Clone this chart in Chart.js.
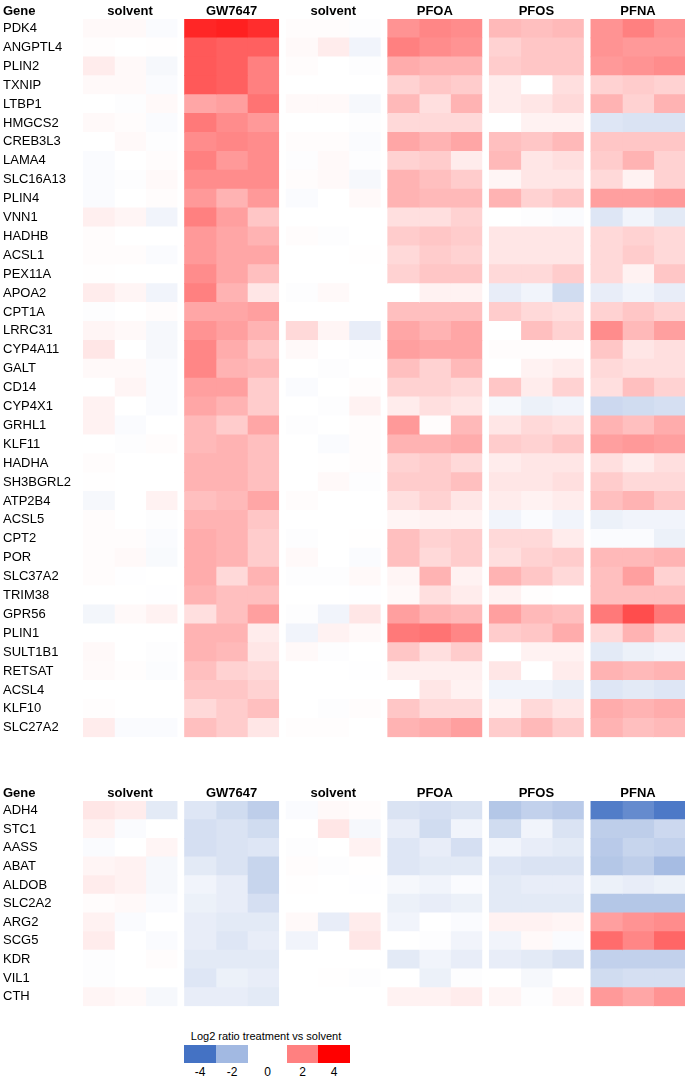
<!DOCTYPE html>
<html>
<head>
<meta charset="utf-8">
<script src="https://cdn.jsdelivr.net/npm/chart.js@4.4.1/dist/chart.umd.min.js"></script>
<style>
  html, body { margin: 0; padding: 0; background: #fff; }
  body { width: 685px; height: 1083px; position: relative; overflow: hidden; font-family: "Liberation Sans", Arial, sans-serif; }
  .wrap { position: absolute; left: 0; }
  #legend { position: absolute; left: 0; top: 1028px; width: 685px; height: 55px; }
  #legend .title { position: absolute; left: 150px; width: 232px; top: 2px; text-align: center; font-size: 11px; color: #000; }
  #legend .box { position: absolute; top: 17px; height: 18px; }
  #legend .lab { position: absolute; top: 37px; width: 30px; text-align: center; font-size: 12px; color: #000; }
</style>
</head>
<body>
<div class="wrap" id="topWrap" style="top:0;"><canvas id="topChart" width="685" height="745"></canvas></div>
<div class="wrap" id="botWrap" style="top:782px;"><canvas id="botChart" width="685" height="232"></canvas></div>
<div id="legend"></div>
<script>
// ---- data ----
const groups = ["solvent", "GW7647", "solvent", "PFOA", "PFOS", "PFNA"];
const replicates = 3;

const topGenes = ["PDK4","ANGPTL4","PLIN2","TXNIP","LTBP1","HMGCS2","CREB3L3","LAMA4","SLC16A13","PLIN4",
  "VNN1","HADHB","ACSL1","PEX11A","APOA2","CPT1A","LRRC31","CYP4A11","GALT","CD14",
  "CYP4X1","GRHL1","KLF11","HADHA","SH3BGRL2","ATP2B4","ACSL5","CPT2","POR","SLC37A2",
  "TRIM38","GPR56","PLIN1","SULT1B1","RETSAT","ACSL4","KLF10","SLC27A2"];

// log2 ratios, per gene: solvent(3), GW7647(3), solvent(3), PFOA(3), PFOS(3), PFNA(3)
const topValues = [
  [0.1,0.1,-0.1, 3.4,3.5,3.3, 0.05,0.05,-0.05, 1.7,1.9,1.8, 1.1,1.0,1.1, 1.7,2.0,1.7],
  [0.03,0,0.02, 2.6,2.5,2.5, 0.1,0.3,-0.3, 2.0,1.8,1.7, 0.7,0.9,0.9, 1.7,1.6,1.6],
  [0.3,0.1,-0.2, 2.6,2.5,2.0, 0.05,0,-0.05, 1.3,1.2,1.2, 0.8,0.9,0.9, 1.6,1.7,1.8],
  [0.1,0.1,-0.1, 2.6,2.5,2.0, 0,0,0, 0.7,0.9,0.8, 0.3,0,0.5, 0.7,0.8,0.7],
  [0,-0.05,0.1, 1.4,1.5,2.2, 0.1,0.1,-0.2, 1.1,0.5,1.2, 0.3,0.4,0.6, 1.2,0.7,1.2],
  [0.1,0.05,-0.1, 2.1,1.8,1.6, 0,0,-0.05, 0.6,0.6,0.6, 0,0.2,0.2, -0.7,-0.8,-0.8],
  [0,0.1,-0.05, 1.8,1.9,1.8, 0.05,0.05,-0.1, 1.4,1.2,1.4, 1.0,0.9,1.1, 0.9,0.9,0.9],
  [-0.1,0,0.05, 2.0,1.6,1.8, -0.05,0.1,-0.05, 0.7,0.8,0.3, 1.1,0.4,0.5, 0.8,1.2,0.7],
  [-0.1,-0.05,0.1, 1.8,1.8,1.8, 0.05,0.1,-0.2, 1.2,1.0,0.8, 0.15,0.4,0.4, 0.6,0.2,0.7],
  [-0.1,0,0.05, 1.6,1.2,1.6, -0.1,0,0.1, 1.2,1.1,1.1, 1.2,0.7,0.9, 1.5,1.5,1.6],
  [0.25,0.15,-0.3, 2.0,1.5,0.9, 0,0,0, 0.5,0.5,0.7, 0,-0.05,-0.1, -0.7,-0.3,-0.6],
  [0.05,0,0, 1.6,1.4,1.2, 0.05,-0.05,0, 0.8,0.9,0.8, 0.4,0.4,0.4, 0.6,0.7,0.6],
  [0.05,0.05,-0.1, 1.6,1.4,1.4, 0,0,0.02, 0.6,0.8,0.7, 0.4,0.4,0.4, 0.6,0.8,0.6],
  [0.02,0,0, 1.8,1.4,1.0, 0,0,0, 0.7,0.9,0.9, 0.6,0.6,0.8, 0.6,0.2,0.9],
  [0.3,0.15,-0.3, 2.0,1.2,0.4, -0.05,0.1,0, 0,0.2,0.2, -0.5,-0.3,-1.0, -0.5,-0.3,-0.5],
  [-0.05,0,0.05, 1.4,1.4,1.5, 0,0,0, 1.0,1.0,1.0, 0.8,0.6,0.5, 0.7,0.9,0.7],
  [0.15,0.1,-0.2, 1.7,1.5,1.2, 0.6,0.15,-0.5, 1.4,1.2,1.4, 0,1.0,0.7, 1.8,1.1,1.5],
  [0.4,0,-0.2, 1.9,1.3,0.9, 0.1,0,-0.05, 1.5,1.4,1.4, 0.05,0.05,0.05, 0.9,0.4,0.5],
  [0.1,0.1,-0.1, 1.9,1.2,1.1, 0,-0.05,0, 1.0,0.7,1.1, 0,0.2,0.3, 0.6,0.5,0.5],
  [0,0.15,-0.1, 1.5,1.5,0.8, -0.1,0,0.05, 0.7,0.7,0.6, 0.9,0.3,0.7, 0.5,1.0,0.7],
  [0.2,0,-0.1, 1.4,1.2,0.8, 0,-0.05,0.2, 0.3,0.5,0.4, -0.2,-0.4,-0.3, -1.1,-1.0,-0.9],
  [0.2,-0.1,0, 1.1,0.8,1.4, -0.05,0,0.05, 1.6,0.05,1.1, 0.4,0.6,0.5, 1.2,1.0,1.3],
  [0,-0.05,0.05, 1.1,1.2,1.0, 0,-0.1,0.05, 1.2,1.2,1.3, 0.8,0.7,0.9, 1.5,1.6,1.5],
  [0.05,0,0, 1.2,1.2,1.0, 0,0.02,0.05, 0.7,0.8,0.6, 0.3,0.4,0.4, 0.5,0.3,0.5],
  [0.02,0,0, 1.2,1.2,1.0, 0,0.1,-0.05, 0.8,0.8,1.0, 0.4,0.4,0.5, 0.8,0.6,0.6],
  [-0.2,0,0.2, 1.0,1.1,1.4, 0.05,0,0, 0.5,0.7,0.4, 0.3,0.2,0.3, 1.0,1.2,0.9],
  [0.05,0,-0.05, 1.2,1.2,0.9, 0,0,0, 0.15,0.2,0.2, -0.3,-0.1,-0.3, -0.4,-0.3,-0.3],
  [0.05,0.05,-0.1, 1.3,1.2,0.8, -0.05,0,0.02, 1.0,0.7,0.8, 0.6,0.6,0.3, -0.1,-0.1,-0.4],
  [0.05,0.1,-0.15, 1.3,1.2,0.8, 0.1,0,-0.1, 1.0,0.6,0.8, 0.5,0.7,0.8, 1.1,1.1,1.2],
  [0.05,-0.02,0, 1.3,0.6,1.2, -0.05,-0.05,0.1, 0.15,1.2,0.2, 1.2,0.9,0.6, 1.0,1.5,0.7],
  [0,0,-0.02, 1.2,1.0,1.0, 0,0,-0.02, 0.1,0.5,0.3, 0.2,0.03,0, 1.0,1.0,1.0],
  [-0.25,0.1,0.2, 0.5,1.0,1.5, -0.05,-0.3,0.4, 1.5,1.2,1.1, 1.5,1.1,1.0, 2.1,2.8,2.1],
  [0,0,0, 1.2,1.2,0.3, -0.3,0.2,0.1, 2.1,2.2,1.9, 0.8,0.9,1.3, 0.6,1.2,0.7],
  [0.1,0,-0.05, 1.2,1.1,0.4, 0.1,-0.05,0, 0.9,0.5,0.8, 0,0.2,0.2, -0.6,-0.4,-0.3],
  [0.08,0.03,-0.08, 1.0,0.7,0.6, 0,0,-0.03, 0.25,0.25,0.25, 0.4,0,0.3, 1.2,1.1,1.2],
  [0,0,0, 0.9,0.9,0.7, 0,0,0, 0,0.4,0.2, -0.3,-0.3,-0.45, -0.7,-0.6,-0.7],
  [0.03,0,0, 0.6,0.8,1.0, 0,-0.05,0.05, 0.9,0.6,0.6, 0.2,0.6,0.4, 1.3,1.2,1.3],
  [0.3,-0.1,-0.1, 1.0,0.8,0.4, 0.03,0.03,0, 1.2,1.3,1.5, 0.8,1.1,0.8, 1.2,1.0,1.1]
];

const bottomGenes = ["ADH4","STC1","AASS","ABAT","ALDOB","SLC2A2","ARG2","SCG5","KDR","VIL1","CTH"];
const bottomValues = [
  [0.4,0.3,-0.6, -0.7,-1.0,-1.4, -0.1,0.1,0.05, -0.8,-0.9,-0.8, -1.6,-1.3,-1.5, -3.7,-3.3,-3.8],
  [0.2,-0.1,0, -0.9,-0.8,-1.0, 0,0.4,-0.2, -0.5,-1.0,-0.3, -1.0,-0.3,-0.8, -1.4,-1.4,-1.1],
  [-0.1,0,0.15, -0.9,-0.8,-0.7, -0.05,0,0.2, -0.7,-0.5,-0.9, -0.3,-0.5,-0.6, -1.5,-1.2,-1.3],
  [0.15,0.2,-0.2, -0.6,-0.8,-1.2, 0.05,-0.05,0.02, -0.7,-0.6,-0.6, -0.7,-0.8,-0.8, -1.6,-1.4,-1.9],
  [0.3,0.2,-0.2, -0.3,-0.5,-1.2, 0.02,0,-0.02, -0.2,-0.3,-0.1, -0.6,-0.5,-0.5, -0.4,-0.5,-0.4],
  [0.05,0.1,-0.1, -0.4,-0.5,-0.9, 0,0,0, -0.4,-0.5,-0.4, -0.6,-0.6,-0.6, -1.6,-1.6,-1.6],
  [0.2,-0.1,0, -0.5,-0.6,-0.6, 0.1,-0.5,0.3, -0.3,0,-0.1, 0.2,0.2,0.15, 1.5,1.7,1.8],
  [0.3,0,-0.1, -0.5,-0.7,-0.5, -0.3,0,0.4, 0,-0.05,-0.3, -0.3,0.1,-0.1, 2.3,1.9,2.4],
  [-0.05,0,0.05, -0.6,-0.6,-0.6, 0,0,0, -0.6,-0.3,-0.5, -0.5,-0.6,-0.8, -1.3,-1.3,-1.3],
  [-0.05,0,0, -0.7,-0.4,-0.5, 0,0.02,-0.05, 0,-0.4,-0.05, 0,-0.2,0, -1.0,-0.9,-0.9],
  [0.15,0.1,-0.2, -0.5,-0.5,-0.6, 0,0,0, 0.2,0.2,0.3, 0.15,-0.05,0.15, 1.6,1.4,1.7]
];

const legendTicks = [-4, -2, 0, 2, 4];
const legendTitle = "Log2 ratio treatment vs solvent";

// ---- colour scale ----
function colorFor(v) {
  if (v >= 0) {
    const t = Math.min(v / 4, 1);
    const g = Math.round(255 * (1 - t));
    return `rgb(255,${g},${g})`;
  }
  const t = Math.min(-v / 4, 1);
  const r = Math.round(255 - t * (255 - 68));
  const g = Math.round(255 - t * (255 - 114));
  const b = Math.round(255 - t * (255 - 196));
  return `rgb(${r},${g},${b})`;
}

const GAP = 0.24; // spacer between groups, in column units
const TOTAL = groups.length * replicates + (groups.length - 1) * GAP;

function buildDatasets(genes, values) {
  const ds = [];
  groups.forEach((g, gi) => {
    if (gi > 0) {
      ds.push({ data: genes.map(() => GAP), backgroundColor: 'rgba(0,0,0,0)', spacer: true });
    }
    for (let r = 0; r < replicates; r++) {
      const col = gi * replicates + r;
      ds.push({
        data: genes.map(() => 1),
        backgroundColor: values.map(row => colorFor(row[col])),
        borderWidth: 0
      });
    }
  });
  return ds;
}

const headerPlugin = {
  id: 'headers',
  afterDraw(chart) {
    const ctx = chart.ctx;
    const xs = chart.scales.x;
    const top = chart.chartArea.top;
    ctx.save();
    ctx.fillStyle = '#000';
    ctx.font = 'bold 13px "Liberation Sans", Arial, sans-serif';
    ctx.textBaseline = 'alphabetic';
    ctx.textAlign = 'left';
    ctx.fillText('Gene', 3, top - 4);
    ctx.textAlign = 'center';
    groups.forEach((g, gi) => {
      const start = gi * (replicates + GAP);
      const x = (xs.getPixelForValue(start) + xs.getPixelForValue(start + replicates)) / 2;
      ctx.fillText(g, x, top - 4);
    });
    ctx.restore();
  }
};

function makeChart(id, genes, values) {
  return new Chart(document.getElementById(id), {
    type: 'bar',
    data: { labels: genes, datasets: buildDatasets(genes, values) },
    options: {
      indexAxis: 'y',
      responsive: false,
      animation: false,
      layout: { padding: { top: 19, left: 3, right: 0, bottom: 0 } },
      datasets: { bar: { barPercentage: 1, categoryPercentage: 1, borderWidth: 0, inflateAmount: 0.4 } },
      plugins: { legend: { display: false }, tooltip: { enabled: false } },
      scales: {
        x: { stacked: true, min: 0, max: TOTAL, display: false },
        y: {
          stacked: true,
          grid: { display: false, drawTicks: false },
          border: { display: false },
          ticks: {
            color: '#000',
            font: { size: 13, family: '"Liberation Sans", Arial, sans-serif' },
            crossAlign: 'far',
            padding: 0,
            autoSkip: false
          },
          afterFit(scale) { scale.width = 80; }
        }
      }
    },
    plugins: [headerPlugin]
  });
}

makeChart('topChart', topGenes, topValues);
makeChart('botChart', bottomGenes, bottomValues);

// ---- legend (colour key) ----
const legend = document.getElementById('legend');
const title = document.createElement('div');
title.className = 'title';
title.textContent = legendTitle;
legend.appendChild(title);
const boxX = { "-4": 184, "-2": 216, "0": 248, "2": 287, "4": 318 };
const boxW = { "-4": 32, "-2": 32, "0": 39, "2": 31, "4": 32 };
legendTicks.forEach(v => {
  const b = document.createElement('div');
  b.className = 'box';
  b.style.left = boxX[v] + 'px';
  b.style.width = boxW[v] + 'px';
  b.style.background = colorFor(v);
  legend.appendChild(b);
  const l = document.createElement('div');
  l.className = 'lab';
  l.style.left = (boxX[v] + boxW[v] / 2 - 15) + 'px';
  l.textContent = String(v);
  legend.appendChild(l);
});
</script>
</body>
</html>
